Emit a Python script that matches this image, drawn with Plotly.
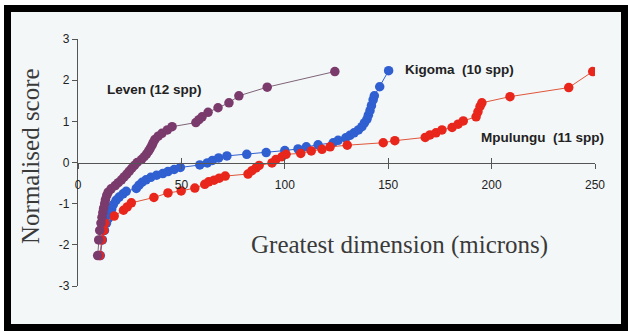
import plotly.graph_objects as go

# ---- data ----
leven_x = [9.5, 10.0, 10.5, 11.1, 11.6, 12.0, 12.4, 12.9, 13.3, 13.9, 14.6, 16.0, 18.0, 19.5,
           21.0, 22.3, 23.6, 24.8, 26.0, 27.3, 28.6, 30.7, 32.0, 33.2, 34.2, 35.0, 35.8, 36.4,
           37.2, 38.8, 40.6, 43.2, 45.5, 57.0, 58.5, 60.0, 62.9, 67.7, 73.0, 77.8, 91.5, 124.2]
leven_y = [-2.26, -1.88, -1.65, -1.47, -1.33, -1.22, -1.11, -1.00, -0.90, -0.80, -0.72, -0.64,
           -0.56, -0.49, -0.42, -0.35, -0.28, -0.21, -0.14, -0.07, 0.00, 0.07, 0.14, 0.21,
           0.28, 0.35, 0.42, 0.49, 0.56, 0.64, 0.71, 0.79, 0.87, 0.97, 1.04, 1.11, 1.22,
           1.33, 1.45, 1.62, 1.83, 2.21]

kigoma_x = [10.8, 11.8, 12.8, 13.8, 14.8, 15.5, 16.3, 17.1, 18.4, 19.9, 21.8, 23.3, 28.2, 29.5,
            31.0, 32.9, 35.2, 38.0, 41.0, 43.5, 46.5, 49.5, 58.9, 62.5, 65.0, 68.0, 72.0, 81.6,
            91.0, 100.0, 106.4, 110.4, 116.1, 123.4, 125.8, 129.5, 131.5, 133.5, 135.6, 137.3,
            138.5, 139.7, 140.4, 141.2, 141.9, 142.7, 143.3, 145.9, 150.2]
kigoma_y = [-2.26, -1.88, -1.65, -1.47, -1.35, -1.24, -1.13, -1.02, -0.92, -0.84, -0.76, -0.70,
            -0.63, -0.55, -0.48, -0.42, -0.36, -0.31, -0.27, -0.22, -0.17, -0.12, -0.06, -0.01,
            0.05, 0.11, 0.16, 0.20, 0.24, 0.29, 0.33, 0.38, 0.43, 0.48, 0.54, 0.60, 0.66, 0.72,
            0.79, 0.87, 0.96, 1.05, 1.15, 1.26, 1.38, 1.52, 1.62, 1.84, 2.23]

mpulungu_x = [10.5, 11.5, 12.5, 13.0, 17.5, 22.0, 23.8, 25.8, 36.7, 43.5, 49.9, 56.5, 61.3, 63.2,
              65.8, 68.3, 71.2, 82.2, 84.1, 86.1, 87.6, 93.8, 95.7, 98.6, 100.6, 107.7, 112.8,
              118.0, 121.9, 130.2, 147.6, 153.2, 167.9, 170.2, 173.1, 176.0, 180.9, 183.8,
              186.3, 192.5, 193.4, 194.4, 195.3, 208.9, 237.3, 248.9]
mpulungu_y = [-2.26, -1.88, -1.65, -1.47, -1.30, -1.16, -1.08, -0.98, -0.85, -0.74, -0.69, -0.62,
              -0.53, -0.47, -0.43, -0.38, -0.33, -0.28, -0.20, -0.13, -0.07, -0.01, 0.07, 0.14,
              0.20, 0.22, 0.28, 0.32, 0.38, 0.42, 0.48, 0.53, 0.61, 0.67, 0.72, 0.79, 0.85,
              0.93, 1.01, 1.11, 1.23, 1.36, 1.45, 1.60, 1.82, 2.21]

x_ticks = [0, 50, 100, 150, 200, 250]
y_ticks = [-3, -2, -1, 0, 1, 2, 3]
y_ticktext = ["-3", "-2", "-1", "0", "1", "2", "3"]

# ---- layout geometry ----
W, H = 628, 331
L, R, T, B = 78, 33, 39, 45
PW, PH = W - L - R, H - T - B


def px_x(p):
    return (p - L) / PW


def px_y(p):
    return (H - B - p) / PH


C_LEV = "#7a3b6c"
C_KIG = "#2f5fd0"
C_MPU = "#e8261c"

fig = go.Figure()
fig.add_trace(go.Scatter(x=kigoma_x, y=kigoma_y, mode="lines+markers",
                         line=dict(color=C_KIG, width=1),
                         marker=dict(color=C_KIG, size=9.5), showlegend=False))
fig.add_trace(go.Scatter(x=mpulungu_x, y=mpulungu_y, mode="lines+markers",
                         line=dict(color="#e0553a", width=1),
                         marker=dict(color=C_MPU, size=9.5), showlegend=False))
fig.add_trace(go.Scatter(x=leven_x, y=leven_y, mode="lines+markers",
                         line=dict(color="#7d6478", width=1),
                         marker=dict(color=C_LEV, size=9.5), showlegend=False))
# empty trace to hold the overlay axis that draws the upper half of the crossing ticks
fig.add_trace(go.Scatter(x=[], y=[], xaxis="x2", showlegend=False, hoverinfo="skip"))

tickfont = dict(family="Liberation Sans, Arial, sans-serif", size=12, color="#222")

fig.update_layout(
    width=W, height=H,
    margin=dict(l=L, r=R, t=T, b=B, pad=0),
    paper_bgcolor="white",
    plot_bgcolor="rgba(0,0,0,0)",
    xaxis=dict(range=[0, 250], anchor="free", position=0.5, showline=True,
               linecolor="#555", linewidth=1.3, ticks="outside", ticklen=5,
               tickcolor="#555", tickvals=x_ticks, showgrid=False, zeroline=False,
               tickfont=tickfont, ticklabelstandoff=6),
    xaxis2=dict(range=[0, 250], overlaying="x", anchor="free", position=0.5,
                showline=False, ticks="inside", ticklen=5, tickcolor="#555",
                tickvals=x_ticks, showticklabels=False, showgrid=False, zeroline=False),
    yaxis=dict(range=[-3, 3], showline=True, linecolor="#555", linewidth=1.3,
               ticks="outside", ticklen=5, tickcolor="#555", tickvals=y_ticks,
               ticktext=y_ticktext, showgrid=False, zeroline=False, tickfont=tickfont),
    shapes=[dict(type="rect", xref="paper", yref="paper", layer="below",
                 x0=px_x(7.5), x1=px_x(624.5), y0=px_y(8.5), y1=px_y(327.5),
                 line=dict(color="black", width=7), fillcolor="#f4f7f8")],
)

serif = "Liberation Serif, DejaVu Serif, serif"
bold = dict(family="Liberation Sans, Arial, sans-serif", size=13.5, color="#222")
annots = [
    dict(text="Normalised score", x=px_x(30), y=px_y(156), textangle=-90,
         font=dict(family=serif, size=25, color="#3a3a3a")),
    dict(text="Greatest dimension (microns)", x=px_x(399), y=px_y(245),
         font=dict(family=serif, size=25, color="#3a3a3a")),
    dict(text="<b>Leven (12 spp)</b>", x=px_x(154), y=px_y(90), font=bold),
    dict(text="<b>Kigoma \u00a0(10 spp)</b>", x=px_x(459), y=px_y(69), font=bold),
    dict(text="<b>Mpulungu \u00a0(11 spp)</b>", x=px_x(542.5), y=px_y(137), font=bold),
]
for a in annots:
    fig.add_annotation(xref="paper", yref="paper", showarrow=False,
                       xanchor="center", yanchor="middle", **a)

fig.write_html("out.html")
